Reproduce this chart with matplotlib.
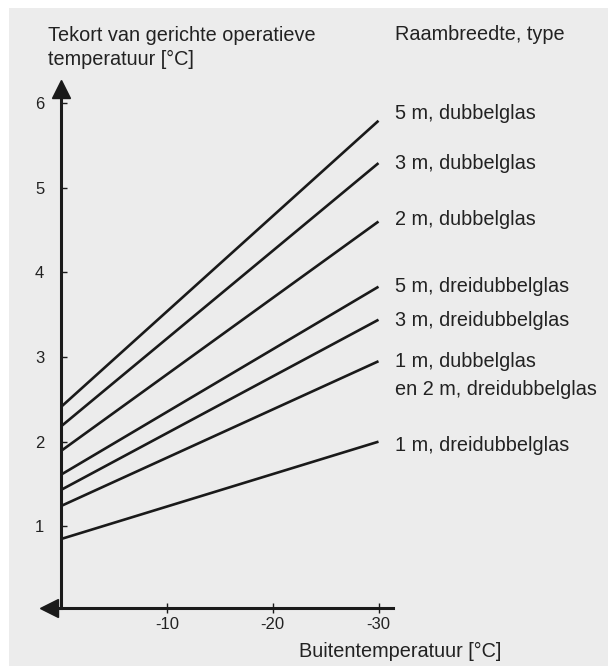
import matplotlib.pyplot as plt
import matplotlib.patches as mpatches

plt.rcParams['font.family'] = ['Liberation Sans', 'DejaVu Sans']

# outside temperature (x) and temperature shortfall at start/end of each line
x_temp = [0, -30]
series = ['5 m, dubbelglas', '3 m, dubbelglas', '2 m, dubbelglas',
          '5 m, dreidubbelglas', '3 m, dreidubbelglas',
          '1 m, dubbelglas\nen 2 m, dreidubbelglas', '1 m, dreidubbelglas']
y_start = [2.41, 2.18, 1.89, 1.61, 1.43, 1.24, 0.85]
y_end = [5.79, 5.29, 4.60, 3.83, 3.44, 2.95, 2.00]
label_y = [5.88, 5.29, 4.62, 3.83, 3.43, 2.78, 1.95]

x_ticks = [-10, -20, -30]
y_ticks = [1, 2, 3, 4, 5, 6]

W, H = 608, 666
fig = plt.figure(figsize=(W / 100, H / 100), dpi=100)
fig.patch.set_facecolor('white')
fig.patches.append(mpatches.Rectangle((9 / W, 0), 1, 1 - 8 / H, transform=fig.transFigure,
                                      facecolor='#ececec', edgecolor='none', zorder=-5))

ax = fig.add_axes([0, 0, 1, 1])
ax.set_facecolor('none')
ax.set_zorder(2)

# map pixels to data: x=0 at px 61, x=-30 at px 378.5; y=0 at px 611 from top, 84.67 px/unit
xs = -30 / 317.5
ax.set_xlim(61 * -xs, (W - 61) * xs)
ax.set_ylim(-(H - 611) / 84.67, 611 / 84.67)

ink = '#1a1a1a'
txt = '#222222'
fs = 14.3

for s, a, b in zip(series, y_start, y_end):
    ax.plot(x_temp, [a, b], color=ink, lw=1.9, solid_capstyle='butt')
for s, ly in zip(series, label_y):
    ax.text(-31.6, ly, s, ha='left', va='center', fontsize=fs, color=txt, linespacing=1.55)

for side in ['top', 'right']:
    ax.spines[side].set_visible(False)
ax.spines['left'].set_position(('data', 0))
ax.spines['bottom'].set_position(('data', 0.035))
ax.spines['left'].set_bounds(0.035, 6.1)
ax.spines['bottom'].set_bounds(1.5, -31.4)
for side in ['left', 'bottom']:
    ax.spines[side].set_linewidth(2.2)
    ax.spines[side].set_color(ink)

ax.plot([0], [6.17], marker='^', markersize=13, color=ink, clip_on=False)
ax.plot([1.1], [0.035], marker='<', markersize=13, color=ink, clip_on=False)

ax.set_xticks(x_ticks)
ax.set_xticklabels([str(t) for t in x_ticks])
ax.set_yticks(y_ticks)
ax.set_yticklabels([str(t) for t in y_ticks])
ax.tick_params(axis='x', direction='inout', length=7, width=1, color=ink, pad=3,
               labelsize=12, labelcolor=txt)
ax.tick_params(axis='y', direction='in', length=4, width=1, color=ink, pad=12,
               labelsize=12, labelcolor=txt)

fig.text(48 / W, 1 - 41 / H, 'Tekort van gerichte operatieve', fontsize=fs, color=txt,
         va='baseline', ha='left')
fig.text(48 / W, 1 - 65 / H, 'temperatuur [°C]', fontsize=fs, color=txt,
         va='baseline', ha='left')
fig.text(395 / W, 1 - 39.5 / H, 'Raambreedte, type', fontsize=fs, color=txt,
         va='baseline', ha='left')
fig.text(299 / W, 1 - 657 / H, 'Buitentemperatuur [°C]', fontsize=fs, color=txt,
         va='baseline', ha='left')

plt.savefig('out.png', dpi=100, facecolor=fig.get_facecolor())
